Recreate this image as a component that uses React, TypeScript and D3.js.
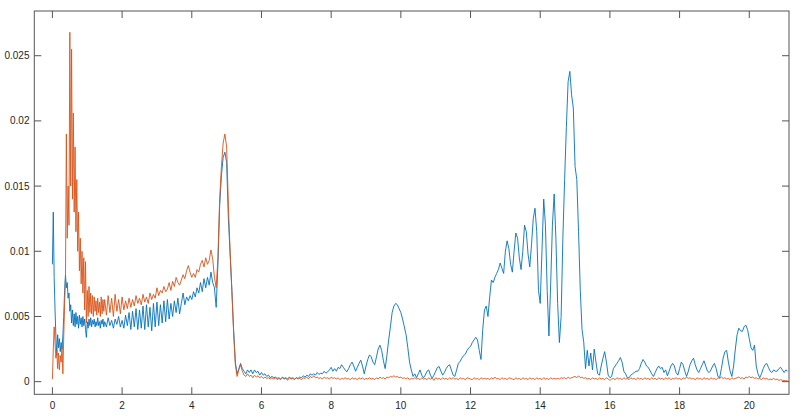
import React from "react";
import * as d3 from "d3";

// values in units of 1e-3
// fine grid: x = 0 .. 1.475, step 0.025 (3 rows of 20)
const BLUE_FINE: number[] = [
  9.0, 13.0, 8.0, 5.5, 3.5, 2.0, 3.6, 2.6, 3.3, 2.3, 3.0, 2.5, 3.5, 5.0, 7.0, 8.2, 7.2, 7.6, 6.4, 6.8,
  5.4, 5.9, 4.5, 5.5, 4.3, 5.2, 4.2, 5.3, 4.4, 5.0, 4.1, 5.1, 4.4, 4.9, 4.2, 5.0, 4.3, 4.8, 4.0, 3.4,
  4.6, 4.1, 4.8, 4.3, 4.9, 4.2, 4.7, 4.4, 4.8, 4.2, 4.6, 4.3, 4.9, 4.3, 4.6, 4.1, 4.7, 4.4, 4.8, 4.2,
];
const ORANGE_FINE: number[] = [
  0.2, 2.5, 4.2, 3.0, 1.8, 2.4, 1.0, 2.2, 0.9, 2.0, 1.5, 2.8, 0.6, 3.5, 6.0, 8.0, 19.0, 11.0, 15.0, 12.0,
  26.8, 15.0, 25.5, 14.0, 20.6, 13.0, 18.0, 11.5, 15.5, 10.0, 13.0, 8.5, 11.0, 7.5, 10.0, 6.8, 9.5, 5.5, 9.2, 4.5,
  7.0, 5.0, 7.3, 5.3, 6.8, 5.2, 6.6, 5.0, 6.5, 5.4, 6.2, 5.1, 6.4, 5.3, 6.1, 5.0, 6.5, 5.2, 6.3, 5.4,
];

// coarse grid: row r covers x = 1.5 + r .. 1.5 + r + 0.95, step 0.05
const BLUE_COARSE: number[][] = [
  [4.6, 4.2, 4.9, 4.3, 4.7, 4.1, 4.8, 4.4, 5.0, 4.2, 4.7, 4.1, 5.1, 4.3, 5.3, 4.0, 5.4, 4.2, 5.6, 4.0],
  [5.5, 4.1, 5.8, 4.0, 5.9, 4.2, 5.7, 3.9, 6.0, 4.2, 6.1, 4.3, 5.9, 4.5, 6.2, 4.6, 6.3, 4.8, 6.0, 5.0],
  [6.2, 5.3, 6.4, 5.2, 6.0, 6.8, 5.9, 6.5, 6.2, 6.6, 6.3, 6.9, 6.5, 7.2, 6.8, 7.6, 6.9, 7.9, 7.2, 8.0],
  [7.4, 8.4, 7.6, 7.2, 5.7, 9.0, 13.5, 15.8, 17.2, 17.6, 16.8, 12.5, 9.8, 7.0, 4.0, 1.5, 0.6, 1.0, 1.4, 1.0],
  [0.8, 0.6, 0.9, 0.7, 0.9, 0.6, 0.9, 0.7, 0.8, 0.5, 0.7, 0.5, 0.6, 0.4, 0.5, 0.3, 0.4, 0.3, 0.35, 0.25],
  [0.3, 0.2, 0.35, 0.25, 0.3, 0.2, 0.35, 0.25, 0.3, 0.2, 0.3, 0.25, 0.35, 0.3, 0.45, 0.35, 0.5, 0.4, 0.6, 0.5],
  [0.6, 0.5, 0.7, 0.55, 0.65, 0.6, 0.8, 0.65, 0.75, 0.9, 1.1, 0.8, 1.0, 0.8, 1.1, 1.0, 1.3, 1.1, 0.9, 0.75],
  [1.0, 1.3, 1.5, 1.2, 0.8, 1.1, 1.4, 1.65, 1.2, 0.6, 1.2, 1.7, 2.05, 1.9, 1.5, 1.3, 1.9, 2.5, 2.8, 2.4],
  [1.6, 1.0, 2.0, 3.2, 4.2, 5.3, 5.8, 6.0, 5.9, 5.6, 5.3, 4.8, 4.2, 3.6, 2.6, 1.5, 0.9, 0.4, 0.6, 0.3],
  [0.6, 0.9, 0.5, 0.3, 0.5, 0.8, 0.9, 0.5, 0.25, 0.5, 0.8, 1.1, 1.15, 0.8, 0.5, 0.7, 1.0, 1.2, 1.3, 0.9],
  [0.5, 0.4, 0.9, 1.4, 1.55, 1.8, 2.0, 2.1, 2.4, 2.6, 2.7, 3.0, 3.2, 3.4, 3.2, 2.4, 1.7, 4.0, 5.5, 5.8],
  [5.0, 6.5, 7.8, 7.6, 8.0, 8.3, 8.6, 9.1, 8.7, 8.3, 10.0, 10.8, 10.2, 9.0, 8.4, 10.0, 11.4, 11.0, 9.5, 8.6],
  [10.0, 12.0, 11.5, 9.8, 8.8, 10.5, 12.5, 13.3, 11.5, 7.0, 6.0, 10.0, 14.0, 12.0, 7.0, 3.5, 7.5, 12.0, 14.4, 11.0],
  [6.0, 3.0, 5.0, 11.0, 15.5, 19.5, 23.0, 23.8, 22.0, 21.0, 16.5, 15.5, 11.5, 7.0, 4.0, 3.0, 1.0, 2.4, 1.2, 2.2],
  [0.9, 2.5, 1.5, 0.6, 0.5, 1.2, 1.8, 2.3, 1.5, 0.5, 0.3, 0.4, 1.0, 1.2, 1.4, 1.6, 1.85, 1.5, 0.8, 0.6],
  [0.3, 0.3, 0.5, 0.6, 0.7, 0.8, 0.8, 1.0, 1.4, 1.7, 1.5, 1.2, 1.1, 0.85, 0.6, 0.4, 0.7, 1.0, 1.2, 1.0],
  [1.1, 0.7, 0.9, 0.45, 0.8, 1.2, 1.4, 1.2, 0.7, 0.5, 1.0, 1.5, 1.3, 0.8, 0.4, 0.8, 1.3, 1.6, 1.8, 1.3],
  [0.9, 0.7, 1.0, 1.3, 1.6, 1.2, 0.8, 0.7, 0.9, 1.2, 1.4, 1.0, 0.4, 0.3, 1.0, 1.8, 2.3, 2.4, 1.5, 0.8],
  [0.4, 1.2, 2.5, 3.6, 4.1, 3.9, 3.85, 4.2, 4.35, 4.0, 3.3, 2.6, 2.4, 2.8, 1.2, 0.6, 0.3, 0.6, 1.0, 1.3],
  [1.4, 1.1, 0.8, 0.7, 0.9, 0.8, 0.8, 1.0, 1.1, 0.9, 0.7, 0.9, 0.8],
];
const ORANGE_COARSE: number[][] = [
  [6.3, 5.1, 6.6, 5.3, 6.4, 5.0, 6.7, 5.4, 6.3, 5.2, 6.5, 5.5, 6.2, 5.6, 6.4, 5.7, 6.3, 5.8, 6.6, 6.0],
  [6.4, 5.9, 6.7, 6.1, 6.5, 6.0, 6.8, 6.3, 6.7, 6.4, 7.2, 6.6, 7.0, 6.8, 7.3, 6.9, 7.1, 7.6, 7.0, 7.7],
  [7.3, 8.0, 7.6, 7.4, 7.8, 8.2, 7.9, 8.5, 8.9, 8.4, 8.0, 8.3, 8.0, 8.6, 8.4, 9.0, 9.3, 8.8, 9.5, 9.0],
  [9.3, 10.1, 9.4, 8.0, 7.2, 9.5, 14.0, 16.5, 18.3, 19.0, 18.0, 13.5, 10.0, 7.0, 3.8, 1.3, 0.4, 0.9, 1.3, 0.8],
  [0.5, 0.4, 0.6, 0.4, 0.5, 0.3, 0.5, 0.35, 0.45, 0.3, 0.4, 0.25, 0.35, 0.25, 0.3, 0.2, 0.3, 0.2, 0.3, 0.15],
  [0.25, 0.15, 0.3, 0.2, 0.25, 0.1, 0.3, 0.2, 0.25, 0.15, 0.3, 0.2, 0.25, 0.15, 0.3, 0.25, 0.35, 0.2, 0.4, 0.3],
  [0.45, 0.3, 0.35, 0.25, 0.3, 0.2, 0.35, 0.25, 0.3, 0.2, 0.35, 0.25, 0.3, 0.2, 0.3, 0.15, 0.25, 0.2, 0.3, 0.2],
  [0.25, 0.15, 0.3, 0.2, 0.25, 0.15, 0.3, 0.2, 0.3, 0.15, 0.25, 0.2, 0.3, 0.2, 0.25, 0.15, 0.3, 0.2, 0.35, 0.25],
  [0.3, 0.2, 0.35, 0.3, 0.4, 0.35, 0.45, 0.35, 0.4, 0.3, 0.35, 0.25, 0.3, 0.2, 0.3, 0.15, 0.25, 0.2, 0.3, 0.2],
  [0.25, 0.15, 0.3, 0.2, 0.25, 0.15, 0.3, 0.2, 0.25, 0.1, 0.3, 0.2, 0.25, 0.15, 0.3, 0.2, 0.25, 0.15, 0.3, 0.2],
  [0.3, 0.2, 0.25, 0.15, 0.3, 0.2, 0.25, 0.15, 0.3, 0.25, 0.2, 0.15, 0.3, 0.2, 0.25, 0.15, 0.3, 0.2, 0.25, 0.2],
  [0.25, 0.15, 0.3, 0.2, 0.35, 0.2, 0.25, 0.15, 0.3, 0.2, 0.25, 0.15, 0.3, 0.25, 0.2, 0.15, 0.3, 0.2, 0.25, 0.15],
  [0.3, 0.2, 0.25, 0.15, 0.3, 0.2, 0.25, 0.15, 0.3, 0.2, 0.25, 0.15, 0.3, 0.2, 0.25, 0.15, 0.3, 0.2, 0.25, 0.2],
  [0.25, 0.2, 0.3, 0.25, 0.3, 0.2, 0.35, 0.25, 0.3, 0.35, 0.4, 0.3, 0.45, 0.3, 0.35, 0.25, 0.3, 0.2, 0.25, 0.15],
  [0.3, 0.2, 0.25, 0.15, 0.3, 0.2, 0.25, 0.15, 0.3, 0.2, 0.1, 0.2, 0.25, 0.15, 0.3, 0.2, 0.25, 0.15, 0.3, 0.2],
  [0.25, 0.15, 0.3, 0.2, 0.25, 0.15, 0.3, 0.2, 0.25, 0.15, 0.3, 0.2, 0.25, 0.15, 0.3, 0.2, 0.25, 0.15, 0.3, 0.2],
  [0.25, 0.15, 0.3, 0.2, 0.3, 0.15, 0.25, 0.2, 0.3, 0.2, 0.25, 0.15, 0.3, 0.2, 0.35, 0.25, 0.3, 0.2, 0.25, 0.15],
  [0.3, 0.2, 0.25, 0.15, 0.3, 0.2, 0.25, 0.15, 0.3, 0.2, 0.25, 0.15, 0.3, 0.25, 0.35, 0.25, 0.3, 0.2, 0.25, 0.15],
  [0.3, 0.2, 0.25, 0.3, 0.35, 0.25, 0.3, 0.2, 0.35, 0.3, 0.4, 0.3, 0.35, 0.25, 0.3, 0.2, 0.25, 0.15, 0.3, 0.2],
  [0.25, 0.15, 0.2, 0.15, 0.25, 0.15, 0.2, 0.1, 0.15, 0.1, 0.1, 0.05, 0.1],
];

const X_TICKS = [0, 2, 4, 6, 8, 10, 12, 14, 16, 18, 20];
const Y_TICKS = [0, 0.005, 0.01, 0.015, 0.02, 0.025];
const Y_TICK_LABELS = ["0", "0.005", "0.01", "0.015", "0.02", "0.025"];
const X_DOMAIN: [number, number] = [-0.52, 21.14];
const Y_DOMAIN: [number, number] = [-0.00097, 0.02843];

const FINE_STEP = 0.025;
const COARSE_START = 1.5;
const COARSE_STEP = 0.05;
const UNIT = 1e-3;

function buildSeries(fine: number[], coarse: number[][]): [number, number][] {
  const pts: [number, number][] = fine.map((v, i) => [i * FINE_STEP, v * UNIT]);
  coarse.forEach((row, r) => {
    row.forEach((v, j) => {
      pts.push([COARSE_START + r + j * COARSE_STEP, v * UNIT]);
    });
  });
  return pts;
}

export default function App() {
  const W = 800;
  const H = 419;
  const L = 34.3, R = 789, T = 11, B = 394.3;
  const x = d3.scaleLinear().domain(X_DOMAIN).range([L, R]);
  const y = d3.scaleLinear().domain(Y_DOMAIN).range([B, T]);
  const line = d3
    .line<[number, number]>()
    .x((d) => x(d[0]))
    .y((d) => y(d[1]));
  const blue = buildSeries(BLUE_FINE, BLUE_COARSE);
  const orange = buildSeries(ORANGE_FINE, ORANGE_COARSE);
  const tickLen = 7;
  const axisColor = "#262626";
  const font = "'Liberation Sans', Arial, Helvetica, sans-serif";
  return (
    <svg
      width={W}
      height={H}
      style={{ position: "absolute", left: 0, top: 0, background: "#fff" }}
    >
      <rect x={0} y={0} width={W} height={H} fill="#fff" />
      <defs>
        <clipPath id="plotclip">
          <rect x={L} y={T} width={R - L} height={B - T} />
        </clipPath>
      </defs>
      <g clipPath="url(#plotclip)">
        <path d={line(blue) || ""} fill="none" stroke="#0072BD" strokeWidth={0.9} strokeLinejoin="round" />
        <path d={line(orange) || ""} fill="none" stroke="#D95319" strokeWidth={0.9} strokeLinejoin="round" />
      </g>
      <rect x={L} y={T} width={R - L} height={B - T} fill="none" stroke="#555" strokeWidth={1} />
      {X_TICKS.map((t) => (
        <g key={"xt" + t}>
          <line x1={x(t)} x2={x(t)} y1={B} y2={B - tickLen} stroke="#555" strokeWidth={1} />
          <line x1={x(t)} x2={x(t)} y1={T} y2={T + tickLen} stroke="#555" strokeWidth={1} />
          <text
            x={x(t)}
            y={408.5}
            textAnchor="middle"
            fontFamily={font}
            fontSize={10}
            fill={axisColor}
          >
            {String(t)}
          </text>
        </g>
      ))}
      {Y_TICKS.map((t, i) => (
        <g key={"yt" + t}>
          <line x1={L} x2={L + tickLen} y1={y(t)} y2={y(t)} stroke="#555" strokeWidth={1} />
          <line x1={R} x2={R - tickLen} y1={y(t)} y2={y(t)} stroke="#555" strokeWidth={1} />
          <text
            x={29.5}
            y={y(t)}
            dy="0.35em"
            textAnchor="end"
            fontFamily={font}
            fontSize={10}
            fill={axisColor}
          >
            {Y_TICK_LABELS[i]}
          </text>
        </g>
      ))}
    </svg>
  );
}
